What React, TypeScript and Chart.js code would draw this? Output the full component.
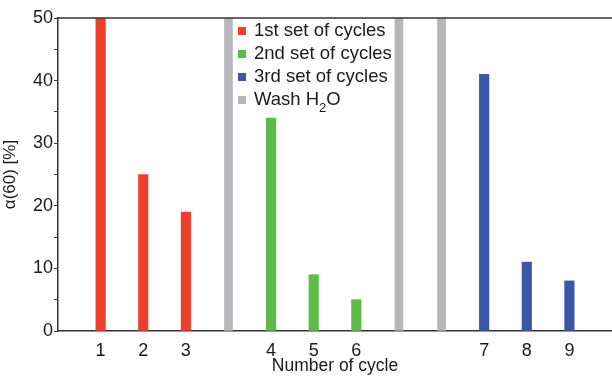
import React, { useEffect, useRef } from "react";
import { Chart, registerables } from "chart.js";

Chart.register(...registerables);

// x slots: empty edges, cycles and water washes
const xSlots = ["", "1", "2", "3", "wash", "4", "5", "6", "wash", "wash", "7", "8", "9", ""];
const set1Cycles = ["1", "2", "3"];
const set1Values = [50, 25, 19];
const set2Cycles = ["4", "5", "6"];
const set2Values = [34, 9, 5];
const set3Cycles = ["7", "8", "9"];
const set3Values = [41, 11, 8];
const washValue = 50;
const yTicks = [0, 10, 20, 30, 40, 50];

const legendNames = ["1st set of cycles", "2nd set of cycles", "3rd set of cycles", "Wash H2O"];
const RED = "#ee3f2c";
const GREEN = "#5dbb47";
const BLUE = "#3b55a9";
const GRAY = "#b6b6ba";
const FONT = "'Liberation Sans', Arial, Helvetica, sans-serif";

function seriesFor(cycles: string[], values: number[]) {
  return xSlots.map((s) => {
    const i = cycles.indexOf(s);
    return i >= 0 ? values[i] : null;
  });
}

const frameAndLegend = {
  id: "frameAndLegend",
  afterDraw(chart: any) {
    const { ctx, chartArea } = chart;
    ctx.save();
    // top frame line
    ctx.strokeStyle = "#333";
    ctx.lineWidth = 1.5;
    ctx.beginPath();
    ctx.moveTo(chartArea.left, chartArea.top);
    ctx.lineTo(chartArea.right, chartArea.top);
    ctx.stroke();

    // legend
    const colors = [RED, GREEN, BLUE, GRAY];
    const x0 = 238;
    const y0 = 31;
    const dy = 23;
    ctx.font = `18.5px ${FONT}`;
    ctx.textBaseline = "middle";
    colors.forEach((c, i) => {
      const y = y0 + i * dy;
      ctx.fillStyle = c;
      ctx.fillRect(x0, y - 4, 8, 8);
      ctx.fillStyle = "#1a1a1a";
      const name = legendNames[i];
      const tx = x0 + 16;
      if (name.endsWith("H2O")) {
        const pre = name.slice(0, -2);
        ctx.fillText(pre, tx, y);
        const w = ctx.measureText(pre).width;
        ctx.font = `13px ${FONT}`;
        ctx.fillText("2", tx + w, y + 8);
        const w2 = ctx.measureText("2").width;
        ctx.font = `18.5px ${FONT}`;
        ctx.fillText("O", tx + w + w2, y);
      } else {
        ctx.fillText(name, tx, y);
      }
    });
    ctx.restore();
  },
};

export default function App() {
  const ref = useRef<HTMLCanvasElement>(null);
  useEffect(() => {
    const washData = xSlots.map((s) => (s === "wash" ? washValue : null));
    const chart = new Chart(ref.current!, {
      type: "bar",
      data: {
        labels: xSlots,
        datasets: [
          { label: legendNames[3], data: washData, backgroundColor: GRAY, barThickness: 8 },
          { label: legendNames[0], data: seriesFor(set1Cycles, set1Values), backgroundColor: RED, barThickness: 9.5 },
          { label: legendNames[1], data: seriesFor(set2Cycles, set2Values), backgroundColor: GREEN, barThickness: 9.5 },
          { label: legendNames[2], data: seriesFor(set3Cycles, set3Values), backgroundColor: BLUE, barThickness: 9.5 },
        ],
      },
      options: {
        responsive: false,
        animation: false,
        maintainAspectRatio: false,
        layout: { padding: { top: 18, right: -3, left: 0, bottom: 0 } },
        datasets: { bar: { grouped: false } },
        plugins: { legend: { display: false }, tooltip: { enabled: false } },
        scales: {
          x: {
            type: "category",
            offset: false,
            grid: { display: false, drawTicks: false },
            border: { display: true, color: "#333", width: 1.5 },
            ticks: {
              autoSkip: false,
              maxRotation: 0,
              padding: 9,
              color: "#1a1a1a",
              font: { family: FONT, size: 18 },
              callback: (_v: any, i: number) => (xSlots[i] === "wash" ? "" : xSlots[i]),
            },
            title: {
              display: true,
              text: "Number of cycle",
              color: "#1a1a1a",
              font: { family: FONT, size: 17.5 },
              padding: { top: 0, bottom: 0 },
            },
            afterFit: (s: any) => {
              s.height = 46;
              s.paddingLeft = 0;
              s.paddingRight = 0;
            },
          },
          y: {
            min: 0,
            max: 50,
            grid: { drawOnChartArea: false, drawTicks: true, tickLength: 4, color: "#333" },
            border: { display: true, color: "#333", width: 1.5 },
            ticks: {
              stepSize: 5,
              padding: 1,
              color: "#1a1a1a",
              font: { family: FONT, size: 18 },
              callback: (v: any) => (yTicks.includes(Number(v)) ? String(v) : ""),
            },
            title: {
              display: true,
              text: "α(60) [%]",
              color: "#1a1a1a",
              font: { family: FONT, size: 17 },
              padding: { top: 0, bottom: 0 },
            },
            afterFit: (s: any) => {
              s.width = 58;
            },
          },
        },
      },
      plugins: [frameAndLegend],
    } as any);
    return () => chart.destroy();
  }, []);
  return (
    <div style={{ position: "absolute", left: 0, top: 0, width: 612, height: 377, background: "#fff" }}>
      <canvas ref={ref} width={612} height={377} style={{ width: 612, height: 377 }} />
    </div>
  );
}
